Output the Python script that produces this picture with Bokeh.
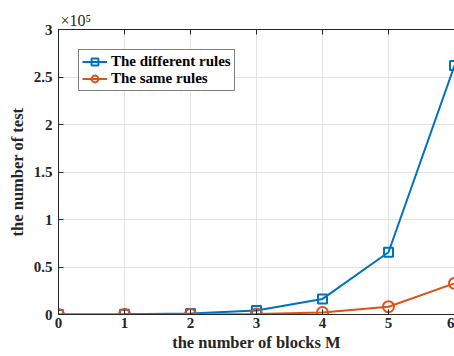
from bokeh.plotting import figure
from bokeh.models import Range1d, FixedTicker, LinearAxis, Title, Legend, LegendItem
from bokeh.embed import file_html
from bokeh.resources import INLINE

M = [0, 1, 2, 3, 4, 5, 6]
different_rules = [64, 256, 1024, 4096, 16384, 65536, 262144]
same_rules = [8, 32, 128, 512, 2048, 8192, 32768]
x_ticks = [0, 1, 2, 3, 4, 5, 6]
y_ticks = [0, 50000, 100000, 150000, 200000, 250000, 300000]
y_tick_labels = ["0", "0.5", "1", "1.5", "2", "2.5", "3"]

FONT = "Liberation Serif"
BLUE = "#0072BD"
ORANGE = "#D95319"
AX = "#262626"

p = figure(frame_width=396, frame_height=285, output_backend="svg", toolbar_location=None,
           x_range=Range1d(0, 6), y_range=Range1d(0, 300000),
           min_border_left=58, min_border_top=29, min_border_bottom=0, min_border_right=0)
p.outline_line_color = None
p.background_fill_color = "white"

for ax in (p.xaxis[0], p.yaxis[0]):
    ax.axis_line_color = AX
    ax.major_tick_line_color = AX
    ax.major_tick_in = 5
    ax.major_tick_out = 0
    ax.minor_tick_line_color = None
    ax.major_label_text_font = FONT
    ax.major_label_text_font_style = "bold"
    ax.major_label_text_font_size = "15px"
    ax.major_label_text_color = AX
    ax.axis_label_text_font = FONT
    ax.axis_label_text_font_style = "bold"
    ax.axis_label_text_font_size = "16.5px"
    ax.axis_label_text_color = AX

p.xaxis.ticker = FixedTicker(ticks=x_ticks)
p.yaxis.ticker = FixedTicker(ticks=y_ticks)
p.yaxis.major_label_overrides = {t: l for t, l in zip(y_ticks, y_tick_labels)}
p.xaxis.axis_label = "the number of blocks M"
p.yaxis.axis_label = "the number of test"
p.xaxis.major_label_standoff = 3
p.xaxis.axis_label_standoff = 2
p.yaxis.major_label_standoff = 6
p.yaxis.axis_label_standoff = 4

top = LinearAxis(ticker=FixedTicker(ticks=x_ticks), axis_line_color=AX,
                 major_tick_line_color=AX, major_tick_in=5, major_tick_out=0,
                 minor_tick_line_color=None, major_label_text_font_size="0px",
                 major_label_standoff=0)
p.add_layout(top, "above")
p.add_layout(Title(text="×10⁵", align="left", offset=2, standoff=2,
                   text_font=FONT, text_font_size="16px", text_font_style="normal",
                   text_color=AX), "above")

p.xgrid.ticker = FixedTicker(ticks=x_ticks)
p.ygrid.ticker = FixedTicker(ticks=y_ticks)
p.xgrid.grid_line_color = "#e3e3e3"
p.ygrid.grid_line_color = "#e3e3e3"

l1 = p.line(M, different_rules, line_color=BLUE, line_width=2)
s1 = p.scatter(M, different_rules, marker="square", size=9, line_color=BLUE,
               line_width=2, fill_color="white", fill_alpha=0)
l2 = p.line(M, same_rules, line_color=ORANGE, line_width=2)
s2 = p.scatter(M, same_rules, marker="circle", size=11, line_color=ORANGE,
               line_width=2, fill_color="white", fill_alpha=0)

legend = Legend(items=[LegendItem(label="The different rules", renderers=[l1, s1]),
                       LegendItem(label="The same rules", renderers=[l2, s2])],
                location="top_left", margin=20, padding=3, spacing=0,
                glyph_width=25, glyph_height=17, label_height=17, label_standoff=4,
                label_text_font=FONT, label_text_font_style="bold",
                label_text_font_size="15px", label_text_color="black",
                border_line_color="black", border_line_width=1,
                background_fill_color="white", background_fill_alpha=1)
p.add_layout(legend, "center")

open("out.html", "w").write(file_html(p, INLINE))
